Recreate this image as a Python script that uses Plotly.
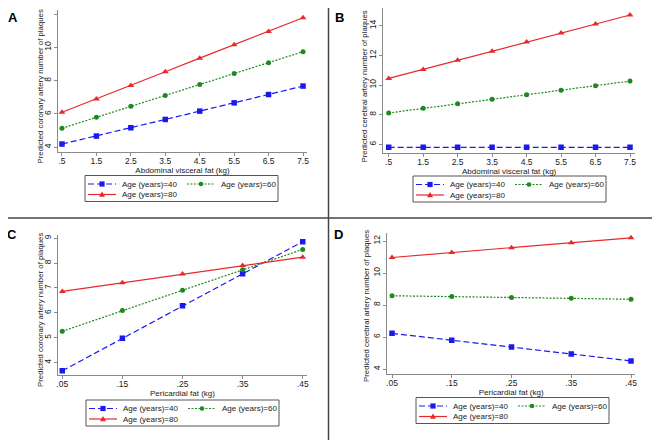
import plotly.graph_objects as go

# ---------------- data ----------------
x_visceral = [0.5, 1.5, 2.5, 3.5, 4.5, 5.5, 6.5, 7.5]
x_visceral_labels = [".5", "1.5", "2.5", "3.5", "4.5", "5.5", "6.5", "7.5"]
x_pericardial = [0.05, 0.15, 0.25, 0.35, 0.45]
x_pericardial_labels = [".05", ".15", ".25", ".35", ".45"]

series_names = ["Age (years)=40", "Age (years)=60", "Age (years)=80"]

A_age40 = [4.18, 4.66, 5.16, 5.66, 6.16, 6.66, 7.16, 7.67]
A_age60 = [5.13, 5.79, 6.45, 7.10, 7.76, 8.42, 9.08, 9.74]
A_age80 = [6.09, 6.89, 7.71, 8.53, 9.35, 10.16, 10.96, 11.78]

B_age40 = [5.80, 5.80, 5.80, 5.80, 5.80, 5.80, 5.80, 5.80]
B_age60 = [8.12, 8.43, 8.74, 9.05, 9.35, 9.66, 9.96, 10.27]
B_age80 = [10.45, 11.06, 11.67, 12.28, 12.90, 13.51, 14.12, 14.73]

C_age40 = [3.67, 4.98, 6.28, 7.57, 8.86]
C_age60 = [5.26, 6.09, 6.91, 7.73, 8.55]
C_age80 = [6.86, 7.21, 7.56, 7.90, 8.24]

D_age40 = [6.23, 5.80, 5.37, 4.94, 4.51]
D_age60 = [8.58, 8.53, 8.47, 8.42, 8.36]
D_age80 = [10.97, 11.28, 11.58, 11.89, 12.20]

A_yticks = [4, 6, 8, 10, 12]
B_yticks = [6, 8, 10, 12, 14]
C_yticks = [4, 5, 6, 7, 8, 9]
D_yticks = [4, 6, 8, 10, 12]

y_title_coronary = "Predicted coronary artery number of plaques"
y_title_cerebral = "Predicted cerebral artery number of plaques"
x_title_visceral = "Abdominal visceral fat (kg)"
x_title_pericardial = "Pericardial fat (kg)"

# ---------------- styling ----------------
# the page body keeps its default 8px margin, so the figure is sized to fit
# the 660x440 window and window-pixel positions are shifted by that margin
OFF = 8
W, H = 660 - OFF, 440 - OFF
FONT = "Liberation Sans, Arial, Helvetica, sans-serif"
TXT = "#1a1a1a"
AXC = "#8a8a8a"
COLORS = ["#1a1aee", "#1e8a1e", "#e8282a"]
DASHES = ["6px,3px", "2px,1.5px", "solid"]
SYMBOLS = ["square", "circle", "triangle-up"]
MSIZES = [5.5, 5, 6]


def fx(x):
    return (x - OFF) / W


def fy(y):
    return 1 - (y - OFF) / H


panels = [
    # suffix, x, x labels, series, y title, x title, x range, y range, y ticks,
    # plot box px (l, r, t, b), letter pos, key pos, y-title centre, letter
    ("", x_visceral, x_visceral_labels, [A_age40, A_age60, A_age80], y_title_coronary, x_title_visceral,
     [0.384, 7.616], [3.70, 12.25], A_yticks, (58, 307, 10, 152), (13, 17), (85, 175.5), (40, 86.5), "A"),
    ("2", x_visceral, x_visceral_labels, [B_age40, B_age60, B_age80], y_title_cerebral, x_title_visceral,
     [0.343, 7.645], [5.42, 15.2], B_yticks, (383.3, 635, 8, 153), (340, 17), (413, 176), (364, 86.5), "B"),
    ("3", x_pericardial, x_pericardial_labels, [C_age40, C_age60, C_age80], y_title_coronary, x_title_pericardial,
     [0.0434, 0.4566], [3.50, 9.13], C_yticks, (58.3, 306.7, 235, 375), (12, 235), (86, 400), (40, 310), "C"),
    ("4", x_pericardial, x_pericardial_labels, [D_age40, D_age60, D_age80], y_title_cerebral, x_title_pericardial,
     [0.0421, 0.4567], [3.69, 12.5], D_yticks, (387.3, 635, 233, 374), (338, 235), (416, 397.5), (366.5, 306.5), "D"),
]

fig = go.Figure()
shapes = []
annotations = []
layout_axes = {}

for (suf, xs, xlabels, series, ytitle, xtitle, xr, yr, yticks, box, lab, leg, ytpos, letter) in panels:
    xa = "x" + suf
    ya = "y" + suf
    for i, ys in enumerate(series):
        fig.add_trace(go.Scatter(
            x=xs, y=ys, xaxis=xa, yaxis=ya, mode="lines+markers",
            name=series_names[i], showlegend=False,
            line=dict(color=COLORS[i], width=1.2, dash=DASHES[i]),
            marker=dict(symbol=SYMBOLS[i], size=MSIZES[i], color=COLORS[i],
                        line=dict(width=0)),
        ))
    l, r, t, b = box
    layout_axes["xaxis" + suf] = dict(
        domain=[fx(l), fx(r)], range=xr, anchor=ya,
        tickvals=xs, ticktext=xlabels,
        showline=True, linecolor=AXC, linewidth=1, mirror=False,
        ticks="outside", ticklen=3, tickcolor=AXC, tickwidth=1,
        ticklabelstandoff=-2,
        showgrid=False, zeroline=False,
        tickfont=dict(size=8.5, color=TXT, family=FONT),
        title=dict(text=xtitle, font=dict(size=8, color=TXT, family=FONT), standoff=0),
    )
    layout_axes["yaxis" + suf] = dict(
        domain=[fy(b), fy(t)], range=yr, anchor=xa,
        tickvals=yticks, tickangle=-90,
        showline=True, linecolor=AXC, linewidth=1,
        ticks="outside", ticklen=3, tickcolor=AXC, tickwidth=1,
        showgrid=False, zeroline=False,
        tickfont=dict(size=8.5, color=TXT, family=FONT),
    )
    # y-axis title (placed like the reference: not centred on the axis)
    annotations.append(dict(
        text=ytitle, x=fx(ytpos[0]), y=fy(ytpos[1]), xref="paper", yref="paper",
        xanchor="center", yanchor="middle", textangle=-90, showarrow=False,
        font=dict(size=7.8, color=TXT, family=FONT),
    ))
    annotations.append(dict(
        text="<b>%s</b>" % letter, x=fx(lab[0]), y=fy(lab[1]), xref="paper", yref="paper",
        xanchor="center", yanchor="middle", showarrow=False,
        font=dict(size=13, color="#000000", family=FONT),
    ))
    # key box
    L, T = leg
    shapes.append(dict(type="rect", xref="paper", yref="paper",
                       x0=fx(L), x1=fx(L + 193), y0=fy(T + 26), y1=fy(T),
                       line=dict(color="#555555", width=1), fillcolor="white", layer="above"))
    slots = [(0, 8.5), (99, 8.5), (0, 19)]
    for i, (cx, ry) in enumerate(slots):
        yy = T + ry
        shapes.append(dict(type="line", xref="paper", yref="paper",
                           x0=fx(L + cx + 3), x1=fx(L + cx + 31), y0=fy(yy), y1=fy(yy),
                           line=dict(color=COLORS[i], width=1.2, dash=DASHES[i]), layer="above"))
        mx = L + cx + 17
        if SYMBOLS[i] == "square":
            shapes.append(dict(type="rect", xref="paper", yref="paper",
                               x0=fx(mx - 2.6), x1=fx(mx + 2.6), y0=fy(yy + 2.6), y1=fy(yy - 2.6),
                               line=dict(width=0), fillcolor=COLORS[i], layer="above"))
        elif SYMBOLS[i] == "circle":
            shapes.append(dict(type="circle", xref="paper", yref="paper",
                               x0=fx(mx - 2.3), x1=fx(mx + 2.3), y0=fy(yy + 2.3), y1=fy(yy - 2.3),
                               line=dict(width=0), fillcolor=COLORS[i], layer="above"))
        else:
            path = "M %f,%f L %f,%f L %f,%f Z" % (
                fx(mx - 3), fy(yy + 2.3), fx(mx + 3), fy(yy + 2.3), fx(mx), fy(yy - 2.9))
            shapes.append(dict(type="path", xref="paper", yref="paper", path=path,
                               line=dict(width=0), fillcolor=COLORS[i], layer="above"))
        annotations.append(dict(
            text=series_names[i], x=fx(L + cx + 35), y=fy(yy), xref="paper", yref="paper",
            xanchor="left", yanchor="middle", showarrow=False,
            font=dict(size=8, color=TXT, family=FONT),
        ))

# panel dividers
shapes.append(dict(type="line", xref="paper", yref="paper", x0=fx(328.5), x1=fx(328.5), y0=fy(440), y1=fy(0),
                   line=dict(color="#444444", width=1.5)))
shapes.append(dict(type="line", xref="paper", yref="paper", x0=fx(0), x1=fx(660), y0=fy(218), y1=fy(218),
                   line=dict(color="#444444", width=1.5)))

fig.update_layout(
    width=W, height=H,
    margin=dict(l=0, r=0, t=0, b=0, autoexpand=False),
    paper_bgcolor="white", plot_bgcolor="white",
    font=dict(family=FONT, size=8, color=TXT),
    showlegend=False,
    shapes=shapes, annotations=annotations,
    **layout_axes,
)

fig.write_html("out.html")
